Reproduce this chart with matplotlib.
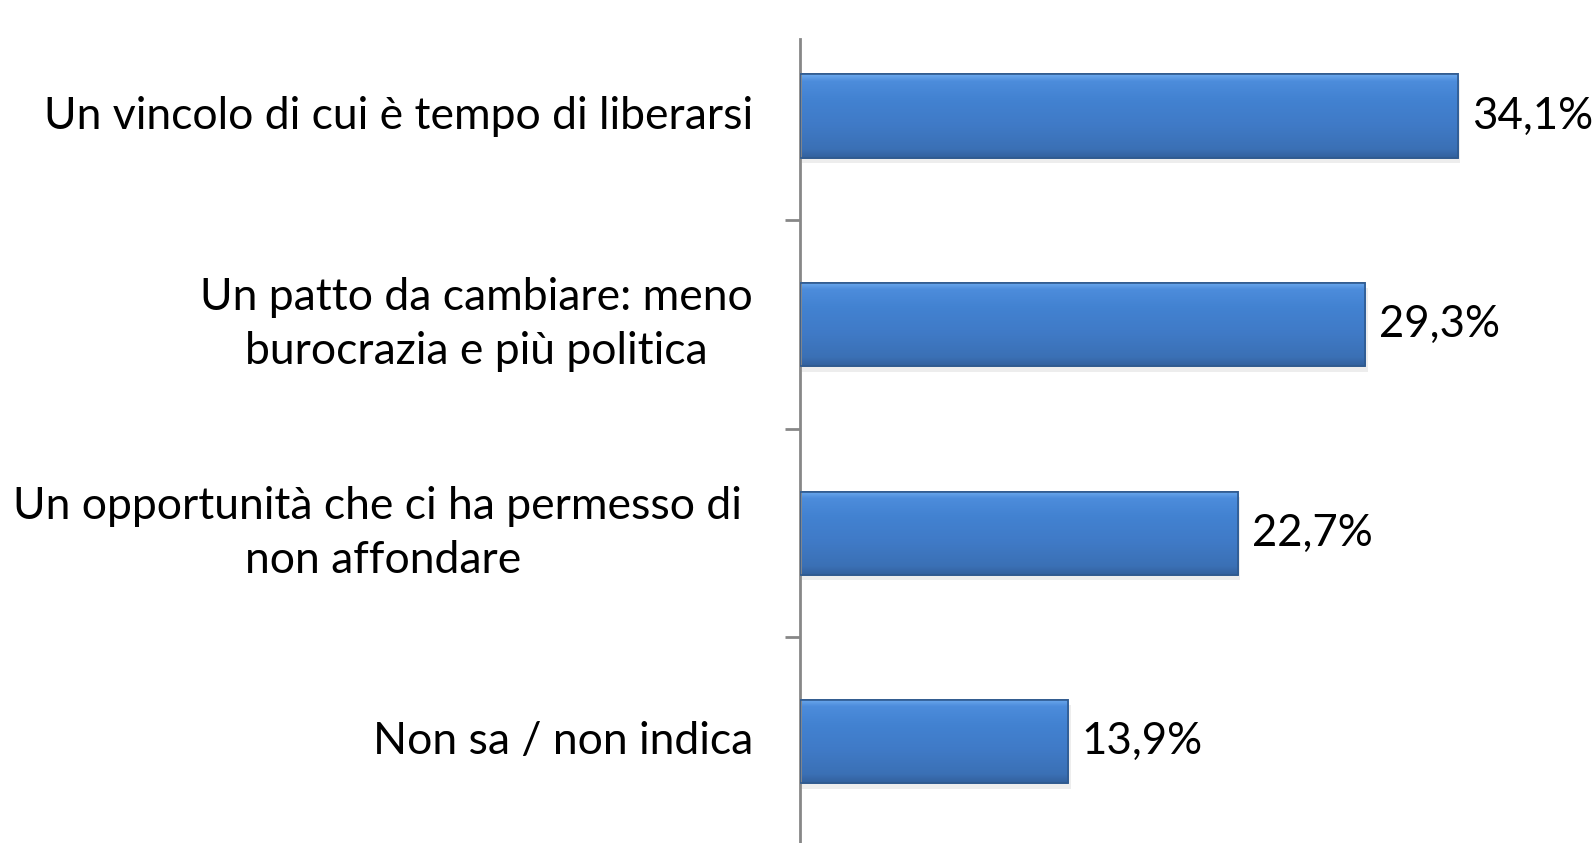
import numpy as np
import matplotlib
matplotlib.use("Agg")
import matplotlib.pyplot as plt
from matplotlib.patches import Rectangle

categories = [
    "Un vincolo di cui è tempo di liberarsi",
    "Un patto da cambiare: meno\nburocrazia e più politica",
    "Un opportunità che ci ha permesso di \nnon affondare",
    "Non sa / non indica",
]
values = [34.1, 29.3, 22.7, 13.9]
value_labels = ["34,1%", "29,3%", "22,7%", "13,9%"]

plt.rcParams["font.family"] = ["Lato", "DejaVu Sans"]

W, H = 1596, 843
fig = plt.figure(figsize=(W / 100, H / 100), dpi=100)
fig.patch.set_facecolor("white")

# axes: left spine at x=800px, top at y=39px, runs past bottom edge
ax_left, ax_top, ax_bot = 800, 39, 846
px_per_pct = 19.3
ax = fig.add_axes([ax_left / W, 1 - ax_bot / H, 1 - ax_left / W, (ax_bot - ax_top) / H])
ax.set_xlim(0, (W - ax_left) / px_per_pct)
ax.set_ylim(3.5, -0.37)

ypos = np.arange(len(categories))
bar_h = 0.40

# soft gradient fill for bars (top highlight -> darker bottom)
grad = np.array([
    [0.42, 0.66, 0.93],
    [0.30, 0.55, 0.86],
    [0.26, 0.51, 0.82],
    [0.25, 0.48, 0.78],
    [0.23, 0.44, 0.71],
    [0.20, 0.38, 0.62],
])
ys = np.linspace(0, 1, 60)
stops = np.array([0.0, 0.08, 0.3, 0.6, 0.9, 1.0])
img = np.stack([np.interp(ys, stops, grad[:, c]) for c in range(3)], axis=1)[:, None, :]

for y, v, lab in zip(ypos, values, value_labels):
    # shadow
    ax.add_patch(Rectangle((0.12, y - bar_h / 2 + 0.025), v, bar_h,
                           facecolor="#000000", alpha=0.07, lw=0, zorder=1))
    bar = Rectangle((0, y - bar_h / 2), v, bar_h, facecolor="#4282d2",
                    edgecolor="#2b5286", lw=1.2, zorder=2)
    ax.add_patch(bar)
    im = ax.imshow(img, extent=(0, v, y + bar_h / 2, y - bar_h / 2),
                   aspect="auto", zorder=2.5, interpolation="bilinear")
    im.set_clip_path(bar)
    ax.add_patch(Rectangle((0, y - bar_h / 2), v, bar_h, facecolor="none",
                           edgecolor="#2f5a8f", lw=1.2, zorder=3))
    ax.text(v + 0.7, y, lab, ha="left", va="center", fontsize=31.5, color="black")

# category labels, block right-aligned, lines centered
for y, c in zip(ypos, categories):
    ax.text(-47 / px_per_pct, y, c, ha="right", va="center", multialignment="center",
            fontsize=32, color="black", linespacing=1.4)

ax.set_xticks([])
ax.set_yticks(np.arange(0.5, len(categories), 1.0))
ax.set_yticklabels([])
ax.tick_params(axis="y", direction="out", length=11, width=2, color="#878787")
for s in ["top", "right", "bottom"]:
    ax.spines[s].set_visible(False)
ax.spines["left"].set_color("#878787")
ax.spines["left"].set_linewidth(2)

fig.savefig("out.png", dpi=100, facecolor="white")
